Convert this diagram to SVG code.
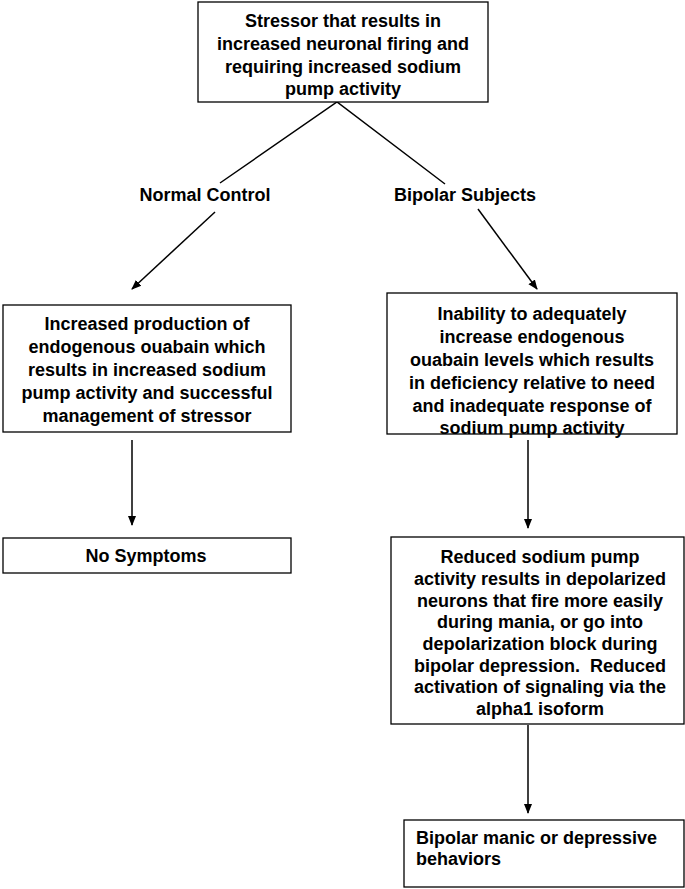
<svg xmlns="http://www.w3.org/2000/svg" width="685" height="889" viewBox="0 0 685 889">
<style>
.box{fill:#fff;stroke:#000;stroke-width:1.3}
.t{font-family:"Liberation Sans",Arial,sans-serif;font-weight:bold;font-size:18px;fill:#000;text-anchor:middle}
.l{text-anchor:start}
.c{stroke:#000;stroke-width:1.5;fill:none}
</style>
<defs>
<marker id="ah" markerWidth="10" markerHeight="10" refX="9" refY="5" orient="auto" markerUnits="userSpaceOnUse">
<path d="M0,1 L10,5 L0,9 Z" fill="#000"/>
</marker>
</defs>
<rect width="685" height="889" fill="#fff"/>
<g id="connectors">
<polyline class="c" points="220,183 337,102 445,184"/>
<line class="c" x1="215" y1="212" x2="132" y2="289" marker-end="url(#ah)"/>
<line class="c" x1="478" y1="209" x2="537" y2="289" marker-end="url(#ah)"/>
<line class="c" x1="132" y1="440" x2="132" y2="525" marker-end="url(#ah)"/>
<line class="c" x1="528" y1="440" x2="528" y2="528" marker-end="url(#ah)"/>
<line class="c" x1="528" y1="725" x2="528" y2="813" marker-end="url(#ah)"/>
</g>
<g id="stressor">
<rect class="box" x="198" y="2" width="290" height="100"/>
<text class="t" x="343" y="27">Stressor that results in</text>
<text class="t" x="343" y="50">increased neuronal firing and</text>
<text class="t" x="343" y="73">requiring increased sodium</text>
<text class="t" x="343" y="95">pump activity</text>
</g>
<g id="normal-control">
<text class="t" x="205" y="201">Normal Control</text>
</g>
<g id="bipolar-subjects">
<text class="t" x="465" y="201">Bipolar Subjects</text>
</g>
<g id="increased-production">
<rect class="box" x="3" y="305" width="288" height="127"/>
<text class="t" x="147" y="330">Increased production of</text>
<text class="t" x="147" y="353">endogenous ouabain which</text>
<text class="t" x="147" y="376">results in increased sodium</text>
<text class="t" x="147" y="399">pump activity and successful</text>
<text class="t" x="147" y="422">management of stressor</text>
</g>
<g id="inability">
<rect class="box" x="387" y="293" width="290" height="141"/>
<text class="t" x="532" y="320">Inability to adequately</text>
<text class="t" x="532" y="343">increase endogenous</text>
<text class="t" x="532" y="366">ouabain levels which results</text>
<text class="t" x="532" y="389">in deficiency relative to need</text>
<text class="t" x="532" y="412">and inadequate response of</text>
<text class="t" x="532" y="434">sodium pump activity</text>
</g>
<g id="no-symptoms">
<rect class="box" x="3" y="538" width="288" height="35"/>
<text class="t" x="146" y="562">No Symptoms</text>
</g>
<g id="reduced-pump">
<rect class="box" x="391" y="537" width="293" height="187"/>
<text class="t" x="540" y="563">Reduced sodium pump</text>
<text class="t" x="540" y="585">activity results in depolarized</text>
<text class="t" x="540" y="607">neurons that fire more easily</text>
<text class="t" x="540" y="628">during mania, or go into</text>
<text class="t" x="540" y="650">depolarization block during</text>
<text class="t" x="540" y="672" style="white-space:pre">bipolar depression.  Reduced</text>
<text class="t" x="540" y="693">activation of signaling via the</text>
<text class="t" x="540" y="715">alpha1 isoform</text>
</g>
<g id="bipolar-behaviors">
<rect class="box" x="404" y="820" width="280" height="67"/>
<text class="t l" x="416" y="844">Bipolar manic or depressive</text>
<text class="t l" x="416" y="865">behaviors</text>
</g>
</svg>
